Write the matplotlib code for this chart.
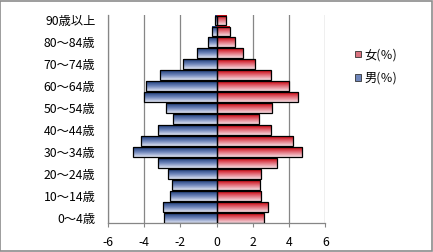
import numpy as np
import matplotlib
matplotlib.use("Agg")
import matplotlib.pyplot as plt
from matplotlib.patches import Patch, Rectangle
from matplotlib.colors import LinearSegmentedColormap

plt.rcParams['font.family'] = ['Noto Sans CJK JP', 'DejaVu Sans']

categories = ["0～4歳", "5～9歳", "10～14歳", "15～19歳", "20～24歳", "25～29歳",
              "30～34歳", "35～39歳", "40～44歳", "45～49歳", "50～54歳", "55～59歳",
              "60～64歳", "65～69歳", "70～74歳", "75～79歳", "80～84歳", "85～89歳",
              "90歳以上"]
male = [-2.91, -2.97, -2.58, -2.47, -2.69, -3.24, -4.63, -4.19, -3.22, -2.41,
        -2.80, -4.02, -3.91, -3.13, -1.87, -1.08, -0.47, -0.24, -0.10]
female = [2.59, 2.81, 2.43, 2.39, 2.43, 3.31, 4.74, 4.20, 2.98, 2.32,
          3.04, 4.48, 3.98, 2.98, 2.10, 1.45, 0.99, 0.71, 0.51]
x_ticks = [-6, -4, -2, 0, 2, 4, 6]
series_names = ["女(％)", "男(％)"]

male_cmap = LinearSegmentedColormap.from_list("m", ["#1c3a78", "#6f86bb", "#dfe4f2"])
female_cmap = LinearSegmentedColormap.from_list("f", ["#c8000a", "#e3707c", "#f6dde2"])

fs = 8.8

fig = plt.figure(figsize=(4.33, 2.52), dpi=100)
fig.patch.set_facecolor("white")
ax = fig.add_axes([0.2494, 0.1139, 0.5019, 0.8266])

y = np.arange(len(categories))
h = 0.9
grad = np.linspace(0, 1, 64).reshape(-1, 1)

for vals, cmap in ((male, male_cmap), (female, female_cmap)):
    bars = ax.barh(y, vals, height=h, facecolor="none", edgecolor="black",
                   linewidth=0.9, zorder=3)
    for b in bars:
        x0, y0 = b.get_x(), b.get_y()
        w, hh = b.get_width(), b.get_height()
        ax.imshow(grad, cmap=cmap, aspect="auto", origin="upper",
                  extent=[x0, x0 + w, y0, y0 + hh], zorder=2,
                  interpolation="bilinear")

ax.set_xlim(-6, 6)
ax.set_ylim(-0.5, len(categories) - 0.5)
ax.set_xticks(x_ticks)
ax.set_xticklabels([str(t) for t in x_ticks], fontsize=fs)
ax.set_yticks(y[::2])
ax.set_yticklabels(categories[::2], fontsize=fs)
ax.tick_params(axis="y", length=0, pad=9)
ax.tick_params(axis="x", length=3, width=0.8, color="#868686", pad=6)
ax.grid(axis="x", color="#868686", linewidth=0.9, zorder=1)
ax.set_axisbelow(True)
for s in ("top", "right"):
    ax.spines[s].set_visible(False)
ax.spines["left"].set_color("#868686")
ax.spines["bottom"].set_color("#868686")
ax.spines["left"].set_linewidth(0.9)
ax.spines["bottom"].set_linewidth(0.9)

handles = [Patch(facecolor="#d9727e", edgecolor="#333333", linewidth=0.6),
           Patch(facecolor="#6f86bb", edgecolor="#333333", linewidth=0.6)]
fig.legend(handles, series_names, loc="center left",
           bbox_to_anchor=(0.794, 0.736), frameon=False, fontsize=fs,
           handlelength=0.5, handleheight=0.5, handletextpad=0.3,
           labelspacing=0.85)

fig.add_artist(Rectangle((0.001, 0.002), 0.996, 0.995, transform=fig.transFigure,
                         fill=False, edgecolor="#8c8c8c", linewidth=1.2))

fig.savefig("out.png", dpi=100)
